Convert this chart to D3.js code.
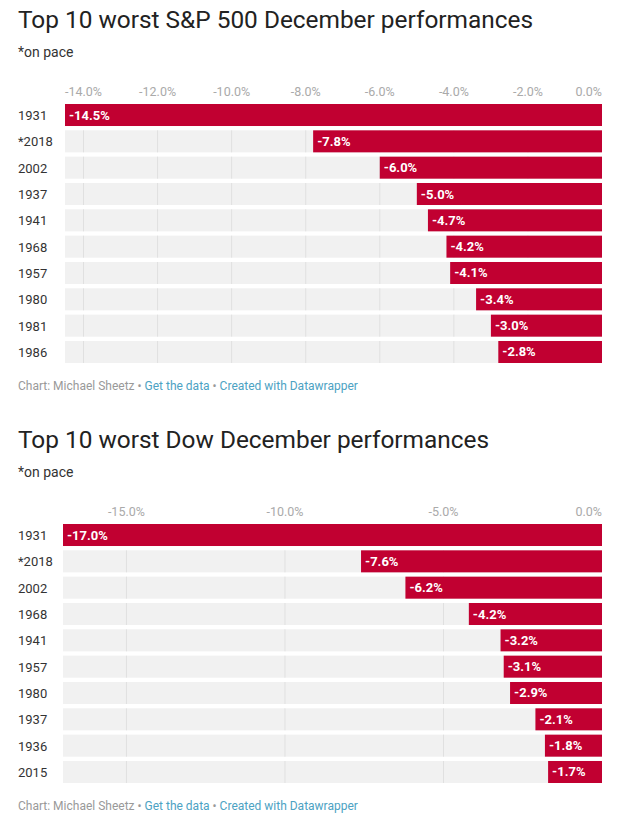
<!DOCTYPE html>
<html><head><meta charset="utf-8">
<script src="https://cdn.jsdelivr.net/npm/d3@7"></script>
<style>body{margin:0;background:#fff;font-family:Roboto,sans-serif}</style>
</head><body>
<svg id="c" width="630" height="818"></svg>
<script>
const spYears = ["1931","*2018","2002","1937","1941","1968","1957","1980","1981","1986"];
const spValues = [-14.5,-7.8,-6.0,-5.0,-4.7,-4.2,-4.1,-3.4,-3.0,-2.8];
const spTicks = [-14,-12,-10,-8,-6,-4,-2,0];
const dowYears = ["1931","*2018","2002","1968","1941","1957","1980","1937","1936","2015"];
const dowValues = [-17.0,-7.6,-6.2,-4.2,-3.2,-3.1,-2.9,-2.1,-1.8,-1.7];
const dowTicks = [-15,-10,-5,0];

const fmt = d => (d < 0 ? "-" : "") + Math.abs(d).toFixed(1) + "%";
const svg = d3.select("#c");
function chart(top, title, years, values, ticks, minV, left){
  const g = svg.append("g").attr("transform",`translate(0,${top})`);
  g.append("text").attr("x",18).attr("y",28).attr("font-size",24.4).attr("fill","#222").text(title);
  g.append("text").attr("x",18).attr("y",57).attr("font-size",14).attr("fill","#333").text("*on pace");
  const x = d3.scaleLinear().domain([minV,0]).range([left,602]);
  const y = d3.scaleBand().domain(years).range([104,363]).paddingInner(0.164).paddingOuter(0).align(0);
  g.selectAll(".tk").data(ticks).join("text")
    .attr("x",d=>x(d)).attr("y",96)
    .attr("text-anchor",(d,i)=>i===ticks.length-1?"end":"middle")
    .attr("font-size",12.5).attr("fill","#aaa")
    .text(fmt);
  const rows = g.selectAll(".row").data(years).join("g");
  rows.append("rect").attr("x",x(minV)).attr("width",x(0)-x(minV))
    .attr("y",d=>y(d)).attr("height",y.bandwidth()).attr("fill","#f1f1f1");
  years.forEach(yr=>{
    g.selectAll(null).data(ticks.slice(0,-1)).join("line")
      .attr("x1",d=>x(d)).attr("x2",d=>x(d))
      .attr("y1",y(yr)).attr("y2",y(yr)+y.bandwidth())
      .attr("stroke","#e0e0e0").attr("stroke-width",1);
  });
  g.selectAll(".bar").data(values).join("rect")
    .attr("x",d=>x(d)).attr("width",d=>x(0)-x(d))
    .attr("y",(d,i)=>y(years[i])).attr("height",y.bandwidth()).attr("fill","#c10031");
  g.selectAll(".vl").data(values).join("text")
    .attr("x",d=>x(d)+4).attr("y",(d,i)=>y(years[i])+y.bandwidth()/2+4.5)
    .attr("font-size",13).attr("font-weight","bold").attr("fill","#fff")
    .text(fmt);
  g.selectAll(".yl").data(years).join("text")
    .attr("x",18).attr("y",d=>y(d)+y.bandwidth()/2+5)
    .attr("font-size",13).attr("fill","#333").text(d=>d);
  const f = g.append("text").attr("x",18).attr("y",390).attr("font-size",12);
  f.append("tspan").attr("fill","#999").text("Chart: Michael Sheetz • ");
  f.append("tspan").attr("fill","#4ca2c3").text("Get the data");
  f.append("tspan").attr("fill","#999").text(" • ");
  f.append("tspan").attr("fill","#4ca2c3").text("Created with Datawrapper");
}
chart(0,"Top 10 worst S&P 500 December performances",spYears,spValues,spTicks,-14.5,65);
chart(420,"Top 10 worst Dow December performances",dowYears,dowValues,dowTicks,-17.0,63);
</script>
</body></html>
